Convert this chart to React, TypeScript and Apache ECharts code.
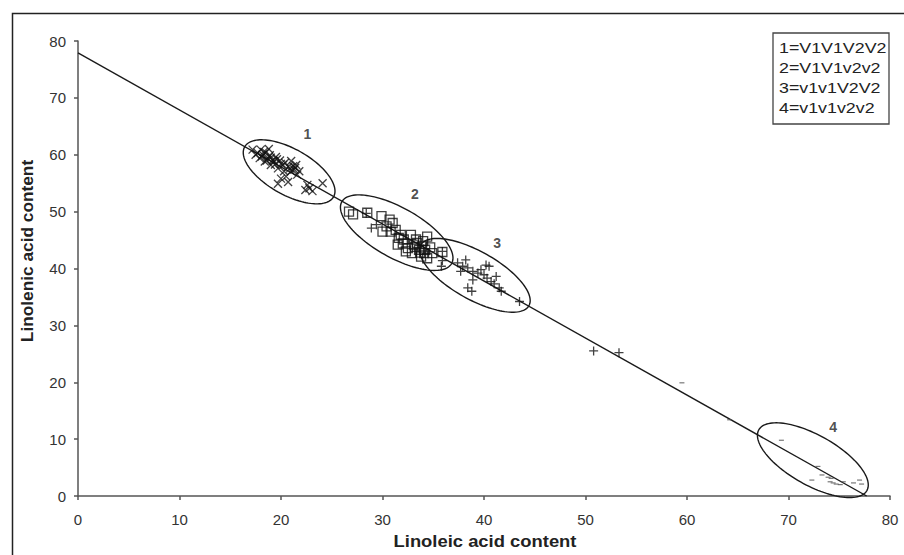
import React, { useEffect, useRef } from "react";
import * as echarts from "echarts";

const FONT = '"Liberation Sans", Arial, sans-serif';

// Genotype groups (Linoleic, Linolenic)
const group1Cross: number[][] = [
  [17.2, 60.9], [18.8, 61.0], [17.7, 60.3], [18.2, 60.0], [18.7, 59.4], [19.2, 59.0],
  [19.5, 59.6], [18.4, 58.8], [20.0, 58.4], [20.7, 57.9], [21.0, 58.9], [21.3, 57.4],
  [21.6, 56.5], [20.3, 57.1], [19.7, 54.9], [20.0, 55.8], [20.7, 55.2], [22.6, 54.7],
  [22.4, 53.8], [23.1, 53.6], [22.8, 54.1], [24.1, 55.0], [17.9, 59.4], [19.0, 58.2],
  [17.5, 60.0], [19.7, 57.6], [21.0, 57.1], [21.5, 58.2], [21.8, 57.1], [19.3, 58.8],
  [18.5, 60.4], [18.0, 60.9], [18.1, 59.7], [19.9, 59.0], [20.4, 58.6], [21.2, 58.0],
  [18.9, 59.9], [20.5, 56.2], [18.3, 60.5], [19.0, 59.5], [19.6, 59.2], [20.2, 58.2],
  [20.9, 57.6], [21.4, 57.7], [18.6, 59.0], [19.4, 58.3],
];

const group2Square: number[][] = [
  [26.7, 50.0], [27.1, 49.5], [29.9, 49.2], [30.7, 48.6], [30.0, 46.5], [31.3, 46.8],
  [31.8, 45.9], [32.8, 45.9], [31.5, 44.2], [32.0, 44.4], [32.5, 43.6], [32.3, 43.0],
  [33.1, 44.2], [33.3, 45.1], [33.6, 43.3], [33.9, 43.9], [34.1, 42.7], [34.4, 45.6],
  [34.4, 41.8], [33.8, 42.1], [34.9, 42.7], [34.7, 43.7], [35.9, 42.9], [32.9, 42.7],
  [32.1, 45.1], [31.6, 45.4], [31.0, 48.0], [30.4, 47.4], [30.8, 46.5], [28.5, 49.8],
  [33.4, 44.5], [34.0, 44.8], [33.7, 42.8], [34.2, 43.3], [33.2, 43.8],
];

const group3Plus: number[][] = [
  [28.4, 49.7], [28.9, 47.1], [29.4, 47.7], [35.9, 43.0], [35.8, 40.4], [35.9, 41.4],
  [37.4, 41.0], [37.9, 40.4], [38.2, 41.5], [37.7, 39.5], [38.4, 40.1], [38.9, 39.5],
  [39.7, 39.8], [40.2, 40.6], [40.5, 40.4], [40.0, 38.9], [40.3, 38.3], [40.7, 37.7],
  [41.2, 38.6], [41.0, 37.3], [41.5, 36.6], [41.7, 36.0], [38.9, 38.0], [38.4, 36.6],
  [38.8, 36.0], [43.5, 34.2], [39.4, 39.2], [50.8, 25.5], [53.3, 25.2],
];

const group4Dash: number[][] = [
  [59.5, 19.9], [64.2, 13.4], [69.3, 9.8], [72.9, 5.2], [73.3, 3.7], [72.3, 2.8],
  [73.9, 3.3], [74.1, 2.5], [74.4, 2.3], [74.7, 2.1], [75.4, 2.5], [76.4, 2.3],
  [77.0, 2.8], [77.2, 2.1], [74.2, 3.1], [75.1, 2.0],
];

const regressionLine: number[][] = [[0, 77.9], [77.7, 0]];

const ellipseCenters: number[][] = [[20.8, 57.0], [31.4, 46.3], [39.1, 38.8], [72.4, 6.3]];
const clusterLabels = ["1", "2", "3", "4"];
const clusterLabelPos: number[][] = [[22.6, 63.6], [33.2, 53.1], [41.3, 44.5], [74.4, 12.2]];
const legendLines = ["1=V1V1V2V2", "2=V1V1v2v2", "3=v1v1V2V2", "4=v1v1v2v2"];

// ellipse semi-axes in pixels (style)
const ELLIPSE_SIZE = [[51, 23], [63, 25], [62, 24], [62, 25]];

const CROSS = "path://M0,0L10,10M10,0L0,10";
const PLUS = "path://M5,0L5,10M0,5L10,5";
const SQUARE = "path://M0,0L10,0L10,10L0,10Z";

export default function App() {
  const ref = useRef<HTMLDivElement>(null);
  useEffect(() => {
    document.body.style.margin = "0";
    const chart = echarts.init(ref.current!, null, { renderer: "svg" });
    const axisCommon = {
      type: "value" as const,
      min: 0,
      max: 80,
      interval: 10,
      splitLine: { show: false },
      axisLine: { show: true, onZero: false, lineStyle: { color: "#555", width: 1.5 } },
      axisTick: { show: true, inside: false, length: 4, lineStyle: { color: "#555", width: 1.5 } },
    };
    const markerStyle = { color: "transparent", borderColor: "#111", borderWidth: 1.3 };
    chart.setOption({
      animation: false,
      backgroundColor: "#fff",
      grid: { left: 78, right: 14, top: 41, bottom: 59 },
      xAxis: {
        ...axisCommon,
        axisLabel: { fontSize: 15, color: "#333", margin: 16, fontFamily: FONT },
      },
      yAxis: {
        ...axisCommon,
        axisLabel: { fontSize: 15, color: "#333", margin: 12, fontFamily: FONT },
      },
      graphic: [
        {
          type: "rect",
          left: 10,
          top: 11,
          shape: { width: 900, height: 560 },
          style: { fill: "none", stroke: "#222", lineWidth: 1.5 },
          silent: true,
        },
        {
          type: "rect",
          x: 773,
          y: 33,
          shape: { width: 116, height: 91 },
          style: { fill: "#fff", stroke: "#444", lineWidth: 1.3 },
          z: 10,
        },
        ...legendLines.map((t, i) => ({
          type: "text",
          x: 779,
          y: 48 + i * 20,
          scaleX: 1.15,
          z: 11,
          style: {
            text: t,
            fill: "#222",
            font: `15.5px ${FONT}`,
            textAlign: "left",
            textVerticalAlign: "middle",
          },
        })),
        {
          type: "text",
          x: 485,
          y: 541,
          scaleX: 1.15,
          style: {
            text: "Linoleic acid content",
            fill: "#222",
            font: `bold 16px ${FONT}`,
            textAlign: "center",
            textVerticalAlign: "middle",
          },
        },
        {
          type: "text",
          x: 28,
          y: 251,
          rotation: Math.PI / 2,
          scaleX: 1.08,
          style: {
            text: "Linolenic acid content",
            fill: "#222",
            font: `bold 16px ${FONT}`,
            textAlign: "center",
            textVerticalAlign: "middle",
          },
        },
      ],
      series: [
        {
          type: "line",
          data: regressionLine,
          symbol: "none",
          lineStyle: { color: "#1a1a1a", width: 1.4 },
          clip: false,
          z: 2,
        },
        {
          type: "custom",
          data: ellipseCenters,
          z: 3,
          renderItem: (params: any, api: any) => {
            const c = api.coord([api.value(0), api.value(1)]);
            const p0 = api.coord(regressionLine[0]);
            const p1 = api.coord(regressionLine[1]);
            const th = Math.atan2(p1[1] - p0[1], p1[0] - p0[0]);
            const [a, b] = ELLIPSE_SIZE[params.dataIndex];
            const pts: number[][] = [];
            for (let i = 0; i < 120; i++) {
              const t = (i / 120) * Math.PI * 2;
              const ex = a * Math.cos(t);
              const ey = b * Math.sin(t);
              pts.push([
                c[0] + ex * Math.cos(th) - ey * Math.sin(th),
                c[1] + ex * Math.sin(th) + ey * Math.cos(th),
              ]);
            }
            return {
              type: "polygon",
              shape: { points: pts },
              style: { fill: "none", stroke: "#1a1a1a", lineWidth: 1.4 },
            };
          },
        },
        {
          type: "scatter",
          data: group1Cross,
          symbol: CROSS,
          symbolSize: 8,
          itemStyle: markerStyle,
          z: 4,
        },
        {
          type: "scatter",
          data: group2Square,
          symbol: SQUARE,
          symbolSize: 9,
          itemStyle: markerStyle,
          z: 4,
        },
        {
          type: "scatter",
          data: group3Plus,
          symbol: PLUS,
          symbolSize: 9,
          itemStyle: markerStyle,
          z: 4,
        },
        {
          type: "scatter",
          data: group4Dash,
          symbol: "rect",
          symbolSize: [5, 1.2],
          itemStyle: { color: "#555" },
          z: 4,
        },
        {
          type: "scatter",
          data: clusterLabels.map((n, i) => ({ name: n, value: clusterLabelPos[i] })),
          symbolSize: 1,
          itemStyle: { color: "transparent" },
          label: {
            show: true,
            position: "inside",
            formatter: "{b}",
            fontSize: 14,
            fontWeight: "bold",
            color: "#222",
            fontFamily: FONT,
          },
          z: 5,
        },
      ],
    });
    return () => chart.dispose();
  }, []);
  return (
    <div
      ref={ref}
      style={{ position: "fixed", left: 0, top: 0, width: 904, height: 555 }}
    />
  );
}
